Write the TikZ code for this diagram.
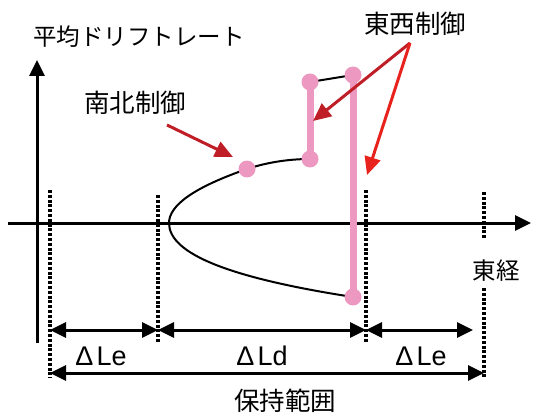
\documentclass[tikz,border=0pt]{standalone}
\usepackage{fontspec}
\setmainfont{Noto Sans CJK JP}
\newfontfamily\latinfont{Liberation Sans}
\usetikzlibrary{arrows.meta}
\definecolor{pinkc}{RGB}{236,152,192}
\definecolor{dred}{RGB}{192,30,38}
\definecolor{bred}{RGB}{232,35,30}
\begin{document}
\begin{tikzpicture}[x=1pt,y=-1pt,
  axis/.style={line width=3pt,-{Triangle[length=16pt,width=15pt]}},
  dimarrow/.style={line width=3pt,{Triangle[length=16pt,width=15pt]}-{Triangle[length=16pt,width=15pt]}},
  guide/.style={line width=3.5pt,dash pattern=on 3pt off 1.8pt},
  redarrow/.style={line width=3pt,-{Triangle[length=18pt,width=16pt]}},
  traj/.style={line width=2pt},
  ctrl/.style={line width=7pt,draw=pinkc},
  dot/.style={circle,fill=pinkc,inner sep=0pt,minimum size=17pt},
  lbl/.style={font=\fontsize{23.5}{27}\selectfont,inner sep=0pt},
  biglbl/.style={font=\fontsize{25.5}{29}\selectfont,inner sep=0pt},
  dimlbl/.style={font=\latinfont\fontsize{27}{30}\selectfont,inner sep=0pt},
]
\useasboundingbox (0,0) rectangle (534,414);

% guides (dotted)
\coordinate (g1t) at (50,190);  \coordinate (g1b) at (50,378);
\coordinate (g2t) at (158,195); \coordinate (g2b) at (158,342);
\coordinate (g3t) at (366,190); \coordinate (g3b) at (366,342);
\coordinate (g4t) at (484,192); \coordinate (g4m) at (484,239);
\coordinate (g4n) at (484,288); \coordinate (g4b) at (484,378);
\draw[guide] (g1t) -- (g1b);
\draw[guide] (g2t) -- (g2b);
\draw[guide] (g3t) -- (g3b);
\draw[guide] (g4t) -- (g4m);
\draw[guide] (g4n) -- (g4b);

% axes
\coordinate (yb) at (37,343); \coordinate (yt) at (37,60);
\coordinate (xl) at (8,223);  \coordinate (xr) at (531,223);
\draw[axis] (yb) -- (yt);
\draw[axis] (xl) -- (xr);

% trajectory
\coordinate (vx) at (169,223);
\coordinate (d1) at (247,169);
\coordinate (d2) at (310,159);
\coordinate (d3) at (310,82);
\coordinate (d4) at (353,75);
\coordinate (d5) at (353,297);
\draw[traj] (d5) .. controls (230,278) and (169,254) .. (vx)
  .. controls (169,205) and (195,187) .. (d1)
  .. controls (268,162) and (290,159) .. (d2);
\draw[traj] (d3) -- (d4);
\draw[ctrl] (d2) -- (d3);
\draw[ctrl] (d4) -- (d5);
\foreach \p in {d1,d2,d3,d4,d5} \node[dot] at (\p) {};

% labels
\node[lbl,anchor=west] (ylab) at (33,37) {平均ドリフトレート};
\node[biglbl] (ew) at (415,24) {東西制御};
\node[biglbl] (ns) at (135,103) {南北制御};
\node[lbl] (east) at (496,271) {東経};

% red arrows
\coordinate (ewfoot) at (410,43);
\coordinate (tip1) at (313,121);
\coordinate (tip2) at (367,175);
\coordinate (nsfoot) at (167,125);
\coordinate (tip3) at (233,157);
\draw[redarrow,draw=dred,fill=dred] (ewfoot) -- (tip1);
\draw[redarrow,draw=bred,fill=bred] (ewfoot) -- (tip2);
\draw[redarrow,draw=dred,fill=dred] (nsfoot) -- (tip3);

% dimension arrows
\coordinate (r1a) at (50,330);  \coordinate (r1b) at (158,330);
\coordinate (r1c) at (366,330); \coordinate (r1d) at (473,330);
\coordinate (r2a) at (50,373);  \coordinate (r2b) at (484,373);
\draw[dimarrow] (r1a) -- (r1b);
\draw[dimarrow] (r1b) -- (r1c);
\draw[dimarrow] (r1c) -- (r1d);
\draw[dimarrow] (r2a) -- (r2b);
\node[dimlbl] (le1) at (101,356) {Δ\hspace{3pt}Le};
\node[dimlbl] (ld) at (262,356) {Δ\hspace{3pt}Ld};
\node[dimlbl] (le2) at (421,356) {Δ\hspace{3pt}Le};
\node[biglbl] (hold) at (285,401) {保持範囲};
\end{tikzpicture}
\end{document}
